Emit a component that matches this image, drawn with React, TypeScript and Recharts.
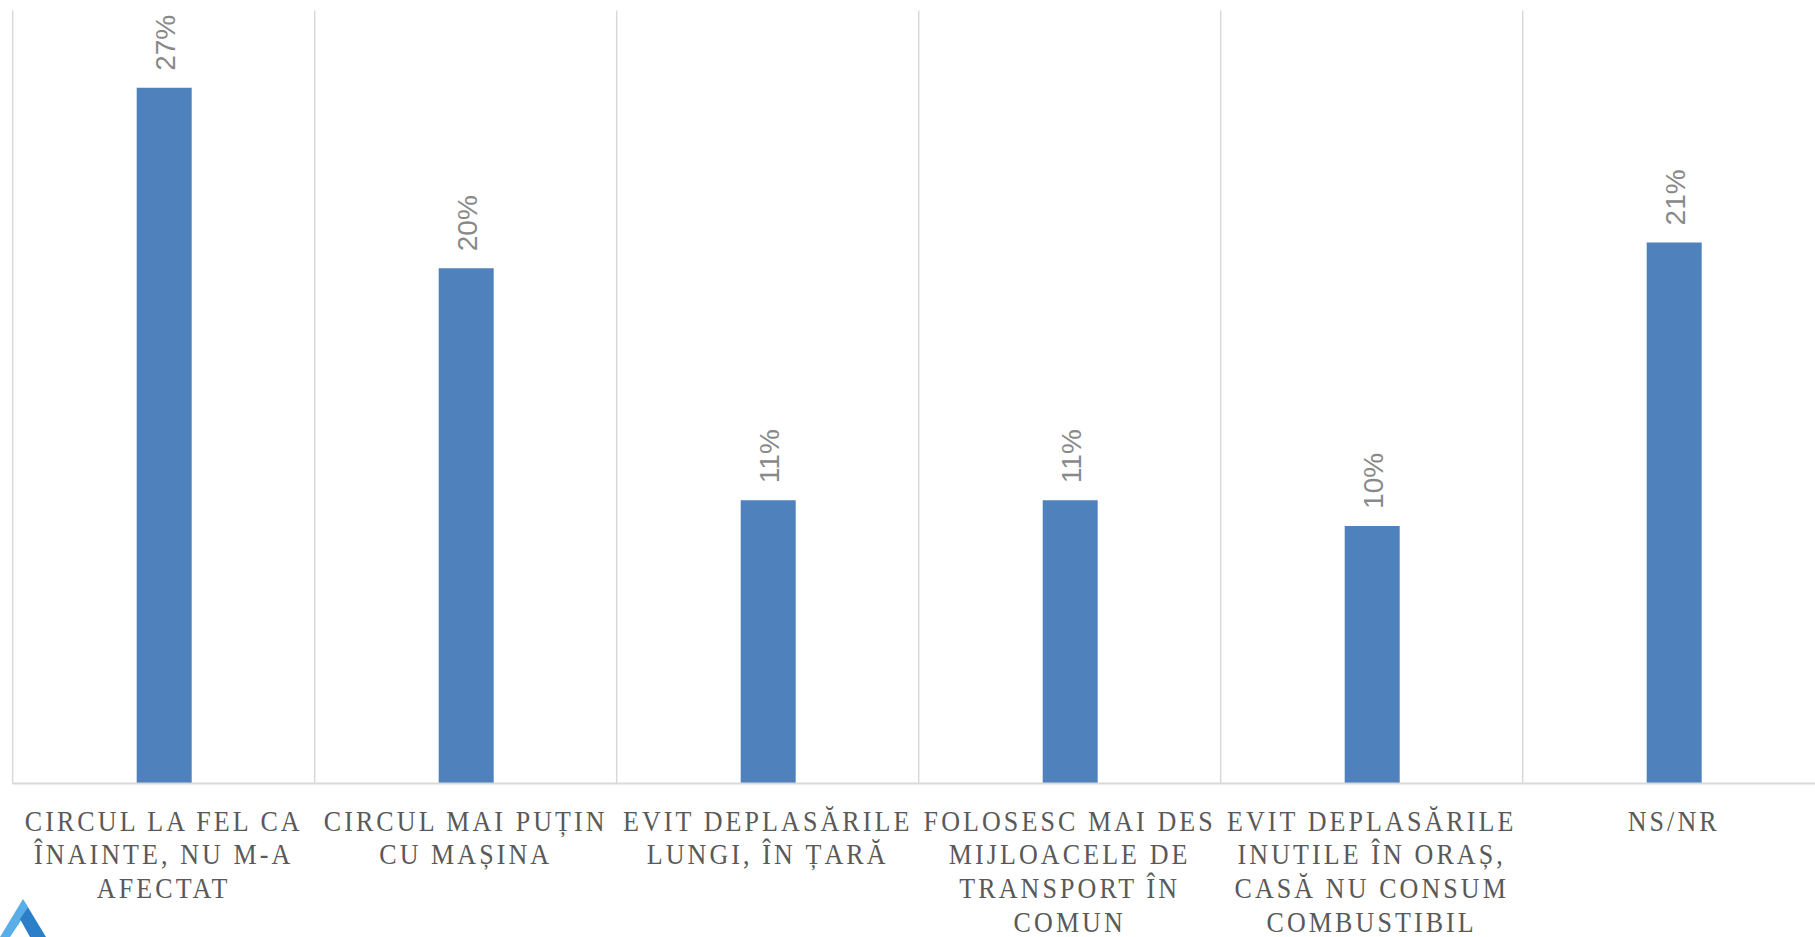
import React from "react";
import { BarChart, Bar, XAxis, YAxis, LabelList, ReferenceLine } from "recharts";

const categories = ["circul", "mai_putin", "evit_lungi", "transport", "evit_inutile", "nsnr"];
const tickLines = [
  ["CIRCUL LA FEL CA", "ÎNAINTE, NU M-A", "AFECTAT"],
  ["CIRCUL MAI PUȚIN", "CU MAȘINA"],
  ["EVIT DEPLASĂRILE", "LUNGI, ÎN ȚARĂ"],
  ["FOLOSESC MAI DES", "MIJLOACELE DE", "TRANSPORT ÎN", "COMUN"],
  ["EVIT DEPLASĂRILE", "INUTILE ÎN ORAȘ,", "CASĂ NU CONSUM", "COMBUSTIBIL"],
  ["NS/NR"],
];
const values = [0.27, 0.2, 0.11, 0.11, 0.1, 0.21];

const data = categories.map((name, i) => ({ name, value: values[i] }));

const GRID = "#d9d9d9";
const BAR = "#4f81bd";

const CategoryTick = (props: any) => {
  const { x, y, index } = props;
  const lines = tickLines[index] ?? [];
  return (
    <text
      transform={`translate(${x}, ${y + 47}) scale(1, 1.16)`}
      textAnchor="middle"
      fill="#595959"
      fontFamily="'Liberation Serif', serif"
      fontSize={26}
      letterSpacing={3.1}
    >
      {lines.map((line, i) => (
        <tspan key={i} x={0} dy={i === 0 ? 0 : 29.1}>
          {line}
        </tspan>
      ))}
    </text>
  );
};

const ValueLabel = (props: any) => {
  const { x, y, width, value } = props;
  return (
    <text
      transform={`translate(${x + width / 2 + 11}, ${y - 17}) rotate(-90)`}
      textAnchor="start"
      fill="#898989"
      fontFamily="'Liberation Sans', sans-serif"
      fontSize={28}
    >
      {`${Math.round(value * 100)}%`}
    </text>
  );
};

export default function App() {
  return (
    <div
      style={{
        position: "absolute",
        left: 0,
        top: 0,
        width: 1815,
        height: 937,
        overflow: "hidden",
        background: "#ffffff",
      }}
    >
      <BarChart
        width={1840}
        height={937}
        data={data}
        margin={{ top: 10.5, right: 15.3, left: 12.7, bottom: 0 }}
      >
        <YAxis hide domain={[0, 0.3]} />
        <XAxis
          dataKey="name"
          height={153.4}
          interval={0}
          tickLine={false}
          tickSize={0}
          tickMargin={0}
          axisLine={{ stroke: GRID, strokeWidth: 2 }}
          tick={<CategoryTick />}
        />
        {categories.map((c) => (
          <ReferenceLine key={c} x={c} position="start" stroke={GRID} strokeWidth={1.5} />
        ))}
        <Bar dataKey="value" fill={BAR} barSize={55} isAnimationActive={false}>
          <LabelList dataKey="value" content={<ValueLabel />} />
        </Bar>
      </BarChart>
      <svg width={50} height={40} style={{ position: "absolute", left: 0, top: 897 }}>
        <polygon points="0,40 23,2 28,10 12,40" fill="#5aaee8" />
        <polygon points="23,2 46,40 30,40 20,22 28,10" fill="#2b7fc8" />
        <polygon points="10,40 18,28 26,40" fill="#ffffff" />
      </svg>
    </div>
  );
}
